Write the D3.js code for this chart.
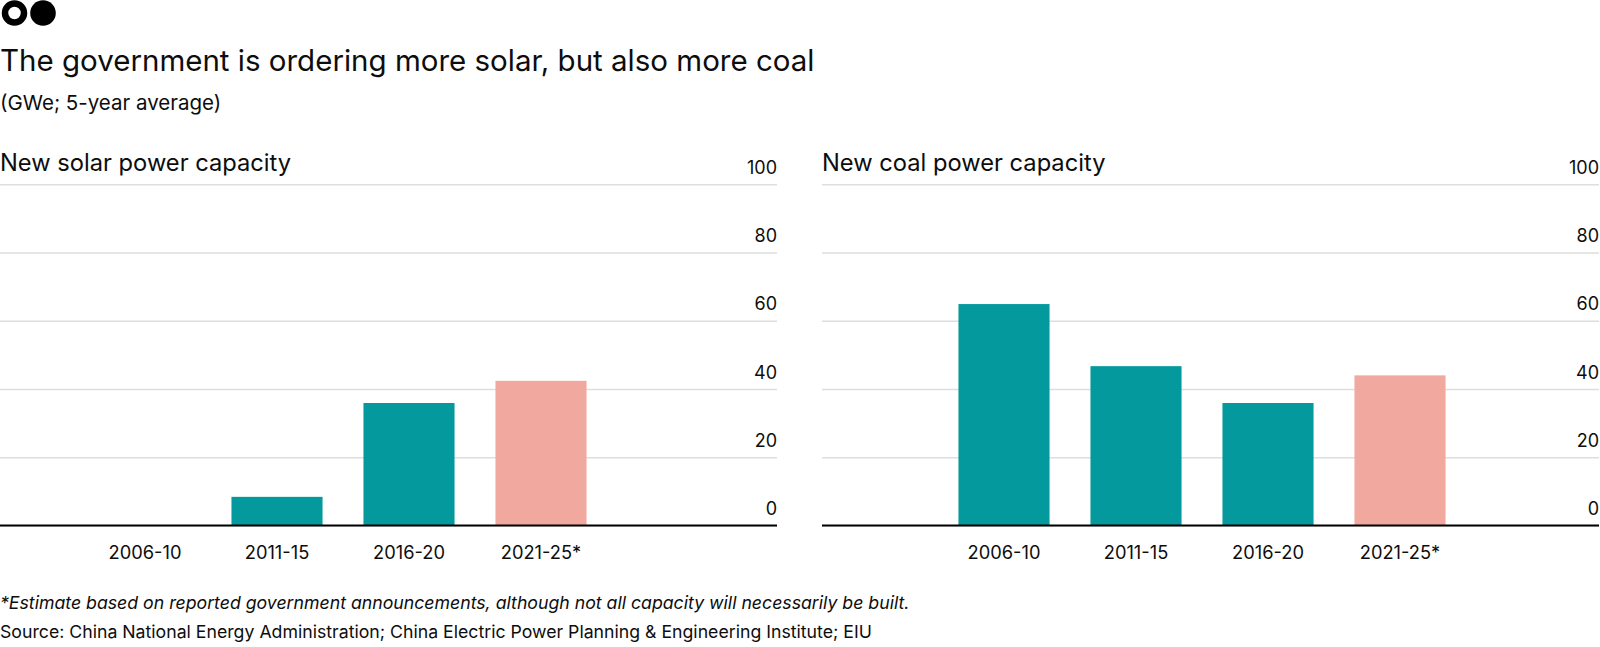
<!DOCTYPE html>
<html>
<head>
<meta charset="utf-8">
<script src="https://cdn.jsdelivr.net/npm/d3@7"></script>
<style>
  body { margin: 0; background: #fff; }
  svg text { font-family: Inter, "Noto Sans", sans-serif; fill: #0d0d0d; }
</style>
</head>
<body>
<div id="chart"></div>
<script>
// periods on the x axis
const periods = ['2006-10', '2011-15', '2016-20', '2021-25*'];
// GWe, 5-year average (last period is an estimate)
const solarValues = [0, 8.4, 35.9, 42.4];
const coalValues = [64.9, 46.7, 35.9, 44.0];
const yTicks = [0, 20, 40, 60, 80, 100];
const estimatePeriod = '2021-25*';

const panels = [
  { name: 'New solar power capacity', values: solarValues, left: 0, bandStart: 79 },
  { name: 'New coal power capacity', values: coalValues, left: 822, bandStart: 116 }
];

const width = 1600,
  height = 647,
  panelW = 777,
  yTop = 184.3,
  yBottom = 525.5;

const svg = d3.select('#chart')
  .append('svg')
  .attr('width', width)
  .attr('height', height);

// logo
svg.append('circle').attr('cx', 14.5).attr('cy', 13).attr('r', 9.5)
  .attr('fill', 'none').attr('stroke', '#000').attr('stroke-width', 6.5);
svg.append('circle').attr('cx', 43).attr('cy', 13).attr('r', 12.8).attr('fill', '#000');

// headline + unit
svg.append('text').attr('x', 0).attr('y', 71)
  .style('font-size', '29.5px')
  .text('The government is ordering more solar, but also more coal');
svg.append('text').attr('x', 0).attr('y', 110)
  .style('font-size', '20.5px')
  .text('(GWe; 5-year average)');

const y = d3.scaleLinear().domain([0, 100]).range([yBottom, yTop]);
const colour = (p) => (p === estimatePeriod ? '#F1A89F' : '#04999D');

panels.forEach((p) => {
  const g = svg.append('g').attr('transform', `translate(${p.left},0)`);

  const x = d3.scaleBand()
    .domain(periods)
    .range([p.bandStart, p.bandStart + 528])
    .paddingInner(0.31)
    .paddingOuter(0.155);

  g.append('text').attr('x', 0).attr('y', 170.5)
    .style('font-size', '23.7px')
    .text(p.name);

  // gridlines with labels sitting on top
  const yAxis = g.append('g')
    .attr('transform', `translate(${panelW},0)`)
    .call(d3.axisLeft(y).tickValues(yTicks).tickSize(panelW).tickFormat(d3.format('d')));
  yAxis.select('.domain').remove();
  yAxis.selectAll('.tick line')
    .attr('stroke', '#dedede')
    .attr('stroke-width', 1.6);
  yAxis.selectAll('.tick text')
    .attr('x', 0)
    .attr('dy', -11)
    .attr('text-anchor', 'end')
    .style('font-size', '18px')
    .style('font-family', 'Inter, sans-serif')
    .attr('fill', '#0d0d0d');

  g.selectAll('rect.bar')
    .data(periods.map((d, i) => ({ period: d, value: p.values[i] })))
    .join('rect')
    .attr('class', 'bar')
    .attr('x', (d) => x(d.period))
    .attr('y', (d) => y(d.value))
    .attr('width', x.bandwidth())
    .attr('height', (d) => y(0) - y(d.value))
    .attr('fill', (d) => colour(d.period));

  // baseline
  const xAxis = g.append('g')
    .attr('transform', `translate(0,${yBottom})`)
    .call(d3.axisBottom(x).tickSize(0).tickPadding(21));
  xAxis.select('.domain').attr('d', `M0,0H${panelW}`)
    .attr('stroke', '#000').attr('stroke-width', 2);
  xAxis.selectAll('.tick text')
    .style('font-size', '18.3px')
    .style('font-family', 'Inter, sans-serif')
    .attr('fill', '#0d0d0d');
});

// footnotes
svg.append('text').attr('x', 0).attr('y', 609)
  .style('font-size', '17.7px')
  .style('font-style', 'italic')
  .text('*Estimate based on reported government announcements, although not all capacity will necessarily be built.');
svg.append('text').attr('x', 0).attr('y', 638)
  .style('font-size', '17.7px')
  .text('Source: China National Energy Administration; China Electric Power Planning & Engineering Institute; EIU');
</script>
</body>
</html>
